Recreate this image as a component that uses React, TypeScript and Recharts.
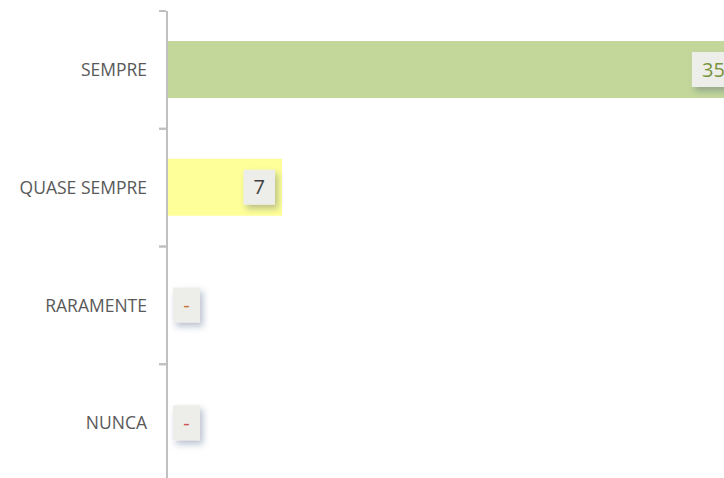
import React from 'react';
import { BarChart, Bar, XAxis, YAxis, Cell, LabelList } from 'recharts';

const categories = ['SEMPRE', 'QUASE SEMPRE', 'RARAMENTE', 'NUNCA'];
const values = [35, 7, 0, 0];
const labels = ['35', '7', '-', '-'];

const barColors = ['#c4d79b', '#ffff99', '#c4d79b', '#c4d79b'];
const labelColors = ['#77933c', '#404040', '#c8702f', '#d0504d'];

const data = categories.map((name, i) => ({ name, value: values[i], label: labels[i] }));

const FONT = '"Open Sans", sans-serif';

const CategoryTick = (props: any) => {
    const { x, y, payload } = props;
    const half = payload.offset || 0;
    return (
        <g>
            <line x1={x} x2={x + 7} y1={y - half} y2={y - half} stroke="#c0c0c0" strokeWidth={2} />
            <line x1={x} x2={x + 7} y1={y + half} y2={y + half} stroke="#c0c0c0" strokeWidth={2} />
            <text x={x - 12} y={y} dy="0.35em" textAnchor="end" fill="#595959" fontSize={17.5} fontFamily={FONT}>
                {payload.value}
            </text>
        </g>
    );
};

const ValueLabel = (props: any) => {
    const { x, y, width, height, index } = props;
    const text = labels[index];
    const textW = text.split('').reduce((s: number, c: string) => s + (c === '-' ? 7 : 11.5), 0);
    const boxW = textW + 20;
    const boxH = 35;
    const bx = Math.max(x + width - 7 - boxW, x + 6);
    const cy = y + height / 2;
    return (
        <g>
            <rect x={bx} y={cy - boxH / 2} width={boxW} height={boxH} fill="#ededea" filter="url(#lblShadow)" />
            <text x={bx + boxW / 2} y={cy} dy="0.36em" textAnchor="middle" fill={labelColors[index]} fontSize={20} fontFamily={FONT}>
                {text}
            </text>
        </g>
    );
};

export default function App() {
    return (
        <div style={{ position: 'fixed', left: 0, top: 0, width: 724, height: 478, overflow: 'hidden', background: '#fff' }}>
            <BarChart
                width={760}
                height={492}
                data={data}
                layout="vertical"
                margin={{ top: 11, right: 0, bottom: 10, left: 0 }}
                barSize={57}
            >
                <defs>
                    <filter id="lblShadow" x="-30%" y="-30%" width="170%" height="170%">
                        <feDropShadow dx={3} dy={4} stdDeviation={3} floodColor="#1f3864" floodOpacity={0.3} />
                    </filter>
                </defs>
                <XAxis type="number" domain={[0, 36.1]} hide />
                <YAxis
                    type="category"
                    dataKey="name"
                    width={167}
                    axisLine={{ stroke: '#c0c0c0', strokeWidth: 2 }}
                    tickLine={false}
                    tick={<CategoryTick />}
                />
                <Bar dataKey="value" isAnimationActive={false} minPointSize={1}>
                    {data.map((entry, i) => (
                        <Cell key={`cell-${i}`} fill={entry.value > 0 ? barColors[i] : 'transparent'} />
                    ))}
                    <LabelList dataKey="label" content={<ValueLabel />} />
                </Bar>
            </BarChart>
        </div>
    );
}
